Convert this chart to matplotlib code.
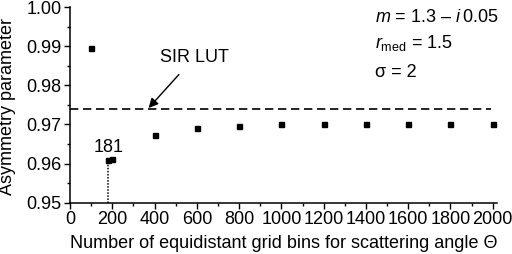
import matplotlib
matplotlib.use("Agg")
import matplotlib.pyplot as plt
from matplotlib.ticker import MultipleLocator

plt.rcParams["font.family"] = ["Liberation Sans", "DejaVu Sans"]
plt.rcParams["mathtext.fontset"] = "custom"
plt.rcParams["mathtext.rm"] = "Liberation Sans"
plt.rcParams["mathtext.it"] = "Liberation Sans:italic"

# data
bins = [100, 181, 200, 400, 600, 800, 1000, 1200, 1400, 1600, 1800, 2000]
asym = [0.9894, 0.9609, 0.9611, 0.9672, 0.9691, 0.9697,
        0.9700, 0.9700, 0.9701, 0.9701, 0.9701, 0.9701]
lut_value = 0.9739
marked_bin = 181

fig = plt.figure(figsize=(5.12, 2.54), dpi=100)
ax = fig.add_axes([0.1367, 0.202, 0.834, 0.7704])

ax.plot(bins, asym, ls="none", marker="s", ms=3.6, color="black")
ax.axhline(lut_value, xmax=0.985, color="black", lw=1.2, ls=(0, (5, 2.8)))
ax.plot([marked_bin, marked_bin], [0.95, asym[1]], color="black", lw=1.1, ls=(0, (1, 1)))

ax.text(184, 0.9642, "181", ha="center", va="center", fontsize=13)
ax.annotate("SIR LUT", xy=(372, 0.9742), xytext=(590, 0.9872),
            ha="center", va="center", fontsize=13,
            arrowprops=dict(arrowstyle="-|>", color="black", lw=1.0,
                            mutation_scale=14, shrinkA=6, shrinkB=0))

ax.text(1443, 0.9972, r"$m$ = 1.3 – $i\,$0.05", fontsize=13, va="center")
ax.text(1443, 0.9908, r"$r_{\mathrm{med}}$ = 1.5", fontsize=13, va="center")
ax.text(1443, 0.9833, "σ = 2", fontsize=13, va="center")

ax.set_xlim(0, 2020)
ax.set_ylim(0.95, 1.00)
ax.xaxis.set_major_locator(MultipleLocator(200))
ax.xaxis.set_minor_locator(MultipleLocator(100))
ax.yaxis.set_major_locator(MultipleLocator(0.01))
ax.yaxis.set_minor_locator(MultipleLocator(0.005))
ax.yaxis.set_major_formatter(plt.FormatStrFormatter("%.2f"))
ax.tick_params(which="major", direction="out", length=4, width=1, labelsize=13, pad=2)
ax.tick_params(which="minor", direction="out", length=2.5, width=1)
for side in ("top", "right"):
    ax.spines[side].set_visible(False)
for side in ("left", "bottom"):
    ax.spines[side].set_linewidth(1.1)

ax.set_xlabel("Number of equidistant grid bins for scattering angle Θ", fontsize=13, labelpad=5)
ax.set_ylabel("Asymmetry parameter", fontsize=13)
ax.yaxis.set_label_coords(-0.127, 0.49)

fig.savefig("out.png", dpi=100)
